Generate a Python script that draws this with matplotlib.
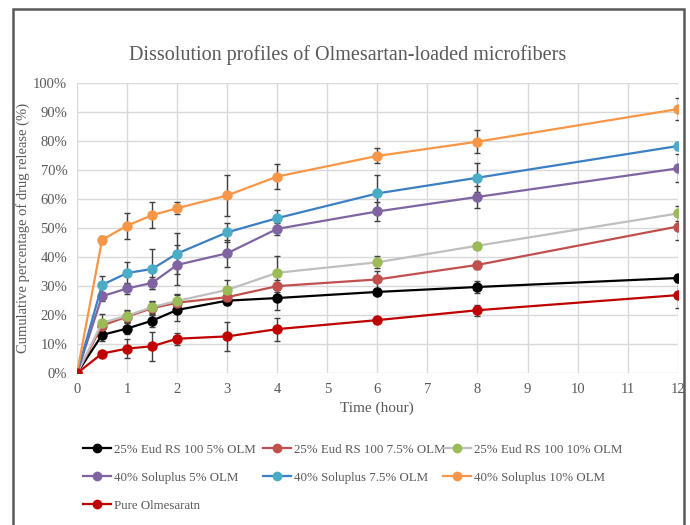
import matplotlib
matplotlib.use("Agg")
import matplotlib.pyplot as plt
from matplotlib.ticker import PercentFormatter
from matplotlib.patches import Rectangle
from matplotlib.lines import Line2D

plt.rcParams['font.family'] = ['Liberation Serif', 'DejaVu Serif']

time = [0, 0.5, 1, 1.5, 2, 3, 4, 6, 8, 12]

labels = ["25% Eud RS 100 5% OLM", "25% Eud RS 100 7.5% OLM", "25% Eud RS 100 10% OLM",
          "40% Soluplus 5% OLM", "40% Soluplus 7.5% OLM", "40% Soluplus 10% OLM",
          "Pure Olmesaratn"]

eud5 = [0, 13.2, 15.4, 18.1, 21.8, 25.0, 25.9, 28.0, 29.7, 32.8]
eud5_err = [0, 2.0, 2.0, 2.0, 3.9, 1.5, 4.1, 1.0, 2.1, 1.5]
eud75 = [0, 16.4, 19.5, 22.4, 24.3, 26.2, 30.0, 32.3, 37.3, 50.5]
eud75_err = [0, 2.0, 2.0, 2.0, 2.5, 2.0, 2.0, 3.0, 1.3, 4.6]
eud10 = [0, 17.4, 19.8, 22.8, 24.9, 28.7, 34.6, 38.2, 43.9, 55.0]
eud10_err = [0, 3.0, 2.0, 2.0, 2.5, 3.4, 5.9, 2.0, 1.0, 2.6]
sol5 = [0, 26.5, 29.2, 31.1, 37.3, 41.3, 49.7, 55.7, 60.7, 70.5]
sol5_err = [0, 1.5, 2.0, 2.0, 6.9, 4.6, 2.0, 3.4, 3.7, 4.8]
sol75 = [0, 30.4, 34.5, 35.9, 41.2, 48.5, 53.4, 61.9, 67.3, 78.2]
sol75_err = [0, 3.1, 3.8, 6.9, 7.0, 3.3, 2.8, 6.5, 4.9, 1.5]
sol10 = [0, 45.9, 50.8, 54.4, 56.8, 61.2, 67.7, 74.8, 79.7, 90.9]
sol10_err = [0, 1.5, 4.5, 4.5, 2.0, 7.1, 4.2, 2.6, 3.9, 3.8]
pure = [0, 6.8, 8.5, 9.3, 11.9, 12.7, 15.2, 18.3, 21.7, 26.9]
pure_err = [0, 1.0, 3.2, 5.0, 2.1, 5.0, 4.0, 1.0, 1.9, 4.5]

series = [eud5, eud75, eud10, sol5, sol75, sol10, pure]
errors = [eud5_err, eud75_err, eud10_err, sol5_err, sol75_err, sol10_err, pure_err]
line_colors = ["#000000", "#C0504D", "#BFBFBF", "#8064A2", "#3C7FC2", "#F79646", "#C00000"]
marker_colors = ["#000000", "#C0504D", "#9BBB59", "#8064A2", "#4BACC6", "#F79646", "#C00000"]

fig = plt.figure(figsize=(6.9, 5.25), dpi=100)
ax = fig.add_axes([77/690, 1-373.3/525, (677.7-77)/690, (373.3-82.7)/525])

text_col = "#595959"
handles = []
for y, e, lab, lc, mc in zip(series, errors, labels, line_colors, marker_colors):
    ax.errorbar(time, y, yerr=e, color=lc, lw=1.6, marker='o', ms=6.5,
                mfc=mc, mec=mc, ecolor="#404040", elinewidth=1.0, capsize=2.5,
                capthick=1.0, zorder=3)
    handles.append(Line2D([], [], color=lc, lw=1.6, marker='o', ms=6,
                          mfc=mc, mec=mc, label=lab))

ax.set_xlim(0, 12)
ax.set_ylim(0, 100)
ax.set_xticks(range(0, 13))
ax.set_yticks(range(0, 101, 10))
ax.yaxis.set_major_formatter(PercentFormatter(100, decimals=0))
ax.grid(True, color="#D9D9D9", lw=1.0, zorder=0)
ax.set_axisbelow(True)
for s in ax.spines.values():
    s.set_visible(False)
ax.tick_params(length=0, labelsize=10.5, colors=text_col, pad=7)

ax.set_xlabel("Time (hour)", fontsize=11, color=text_col, labelpad=4)
ax.set_ylabel("Cumulative percentage of drug release (%)", fontsize=10.5, color=text_col)
ax.yaxis.label.set_verticalalignment('center')
ax.yaxis.set_label_coords((23-77)/600.7, (373.3-228)/290.6)
fig.text(348/690, 1-55/525, "Dissolution profiles of Olmesartan-loaded microfibers",
         ha='center', va='center', fontsize=14.5, color=text_col)

# three legend columns, filled row by row
columns = [[0, 3, 6], [1, 4], [2, 5]]
col_x = [83, 263, 443]
for idx, cx in zip(columns, col_x):
    leg = fig.legend([handles[i] for i in idx], [labels[i] for i in idx],
                     loc='upper left', bbox_to_anchor=(cx/690, 1-443.5/525), ncol=1,
                     frameon=False, fontsize=9.3, handlelength=2.15, handletextpad=0.25,
                     labelspacing=1.25, borderaxespad=0, borderpad=0)
    for t in leg.get_texts():
        t.set_color(text_col)

fig.patches.append(Rectangle((13/690, -0.1), (684-13)/690, 1.1 - 9/525,
                             transform=fig.transFigure, fill=False,
                             edgecolor="#595959", lw=1.8))

fig.savefig("out.png", dpi=100)
